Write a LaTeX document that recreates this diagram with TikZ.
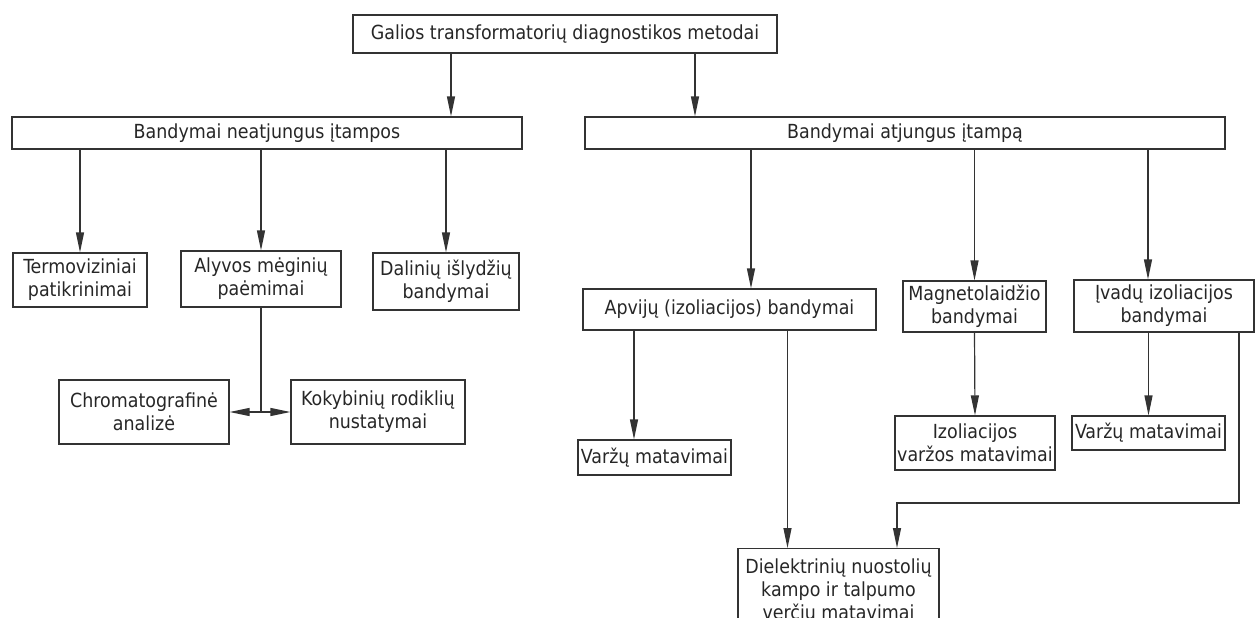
\documentclass[tikz,border=0pt]{standalone}
\usepackage{fontspec}
\setmainfont{DejaVu Sans Condensed}
\usetikzlibrary{positioning, arrows.meta}
\tikzset{
    arr/.style={-{Triangle[length=20pt, width=8pt]}}, % long narrow filled heads
    box/.style={draw, rectangle, align=center, inner sep=0pt}, % plain frame around each method
    every node/.style={font=\fontsize{19.4}{23}\selectfont, text=black!85}
}

\begin{document}
\begin{tikzpicture}[x=1pt, y=-1pt, line width=1.2pt, draw=black!80]
        \useasboundingbox (0,0) rectangle (1256,618);

        % top level
        \node[box, minimum width=424pt, minimum height=38pt] (top) at (565,34) {Galios transformatorių diagnostikos metodai};

        \node[box, minimum width=510pt, minimum height=32pt] (neat) at (267,133) {Bandymai neatjungus įtampos};
        \node[box, minimum width=640pt, minimum height=32pt] (atj) at (905,133) {Bandymai atjungus įtampą};

        % left branch
        \node[box, minimum width=134pt, minimum height=54pt] (termo) at (80,280) {Termoviziniai\\patikrinimai};
        \node[box, minimum width=160pt, minimum height=56pt] (alyvos) at (261,279) {Alyvos mėginių\\paėmimai};
        \node[box, minimum width=146pt, minimum height=57pt] (dalin) at (446,281.5) {Dalinių išlydžių\\bandymai};

        \node[box, minimum width=170pt, minimum height=64pt] (chrom) at (144,412) {Chromatografinė\\analizė};
        \node[box, minimum width=174pt, minimum height=64pt] (koky) at (378,412) {Kokybinių rodiklių\\nustatymai};
        \coordinate (split) at (alyvos.south |- chrom.east);

        % right branch
        \node[box, minimum width=293pt, minimum height=41pt] (apv) at (729.5,309.5) {Apvijų (izoliacijos) bandymai};
        \node[box, minimum width=143pt, minimum height=51pt] (magn) at (974.5,306.5) {Magnetolaidžio\\bandymai};
        \node[box, minimum width=180pt, minimum height=52pt] (ivad) at (1164,306) {Įvadų izoliacijos\\bandymai};

        \node[box, minimum width=153pt, minimum height=35pt] (varz1) at (654.5,457.5) {Varžų matavimai};
        \node[box, minimum width=160pt, minimum height=54pt] (izol) at (975,443) {Izoliacijos\\varžos matavimai};
        \node[box, minimum width=153pt, minimum height=34pt] (varz2) at (1148.5,433) {Varžų matavimai};

        \node[box, minimum width=201pt, minimum height=84pt, anchor=north] (diel) at (838.5,548) {Dielektrinių nuostolių\\kampo ir talpumo\\verčių matavimai};
        \coordinate (turn) at ([xshift=75pt]ivad.south |- 0,503);

        \draw[arr] ([xshift=-114pt]top.south) -- ([xshift=-114pt]top.south |- neat.north);
        \draw[arr] ([xshift=130pt]top.south) -- ([xshift=130pt]top.south |- atj.north);

        \draw[arr] (termo.north |- neat.south) -- (termo.north);
        \draw[arr] (alyvos.north |- neat.south) -- (alyvos.north);
        \draw[arr] (dalin.north |- neat.south) -- (dalin.north);

        \draw (alyvos.south) -- (split);
        \draw[arr] (split) -- (chrom.east);
        \draw[arr] (split) -- (koky.west);

        \draw[arr] ([xshift=21.5pt]apv.north |- atj.south) -- ([xshift=21.5pt]apv.north);
        \draw[arr] (magn.north |- atj.south) -- (magn.north);
        \draw[arr] ([xshift=-16pt]ivad.north |- atj.south) -- ([xshift=-16pt]ivad.north);

        \draw[arr] ([xshift=-20.5pt]varz1.north |- apv.south) -- ([xshift=-20.5pt]varz1.north);
        \draw[arr] ([xshift=-51pt]diel.north |- apv.south) -- ([xshift=-51pt]diel.north);
        \draw[arr] (magn.south) -- (izol.north);
        \draw[arr] (varz2.north |- ivad.south) -- (varz2.north);
        \draw[arr] ([xshift=75pt]ivad.south) -- (turn) -| ([xshift=58.5pt]diel.north);
\end{tikzpicture}
\end{document}
